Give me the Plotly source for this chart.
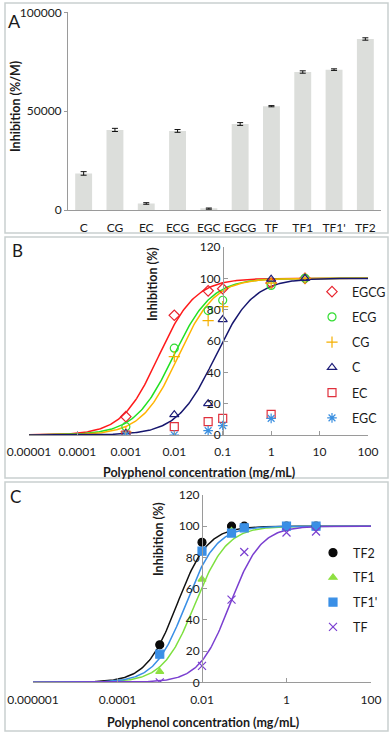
import numpy as np
import plotly.graph_objects as go

# ---------------- Panel A data ----------------
a_categories = ["C", "CG", "EC", "ECG", "EGC", "EGCG", "TF", "TF1", "TF1'", "TF2"]
a_values = [18500, 40500, 3300, 40000, 700, 43500, 52500, 69800, 71000, 86500]
a_errors = [900, 800, 400, 700, 300, 700, 300, 600, 400, 600]
a_ytickvals = [0, 50000, 100000]
a_yticktext = ["0", "50000", "100000"]

# ---------------- Panel B data ----------------
b_conc = [0.001, 0.01, 0.05, 0.1, 1, 5]
b_names = ["EGCG", "ECG", "CG", "C", "EC", "EGC"]
b_EGCG = [11.7, 76.4, 92, 93.4, 97, 100]
b_ECG = [5.3, 55.4, 79.4, 86, 95.5, 100]
b_CG = [2, 50, 73, 82, 97, 100]
b_C = [1, 13, 20, 73.7, 99.5, 100]
b_EC = [0, 5.3, 8.5, 10.6, 13.2, None]
b_EGC = [0, 0, 2.8, 6, 10.6, None]
# fitted dose-response curves (IC50 in mg/mL, Hill slope)
b_fit_names = ["EGCG", "ECG", "CG", "C"]
b_ic50 = [0.0047, 0.0095, 0.012, 0.07]
b_hill = [1.15, 1.1, 1.15, 1.1]
b_xtickvals = [0.00001, 0.0001, 0.001, 0.01, 0.1, 1, 10, 100]
b_xticktext = ["0.00001", "0.0001", "0.001", "0.01", "0.1", "1", "10", "100"]
b_ytickvals = [0, 20, 40, 60, 80, 100, 120]

# ---------------- Panel C data ----------------
c_conc = [0.001, 0.01, 0.05, 0.1, 1, 5]
c_names = ["TF2", "TF1", "TF1'", "TF"]
c_TF2 = [24, 89.7, 100, 100, 100, 100]
c_TF1 = [6.8, 66, 97, 99, 100, 100]
c_TF1p = [18, 84, 95.6, 99, 100, 100]
c_TF = [0, 10.5, 53, 83.5, 96, 96.6]
c_ic50 = [0.00257, 0.0068, 0.0041, 0.046]
c_hill = [1.2, 1.15, 1.2, 1.2]
c_xtickvals = [0.000001, 0.0001, 0.01, 1, 100]
c_xticktext = ["0.000001", "0.0001", "0.01", "1", "100"]
c_ytickvals = [0, 20, 40, 60, 80, 100, 120]

W, H = 392, 738
FONT = "Lato"
TXT = "#1a1a1a"
AX = "#9a9a9a"


def px_x(p):
    return p / W


def px_y(p):
    return 1 - p / H


def hill(x, ic50, n):
    return 100.0 / (1.0 + (ic50 / x) ** n)


fig = go.Figure()

# ---------- Panel A ----------
fig.add_trace(go.Bar(
    x=a_categories, y=a_values,
    error_y=dict(type="data", array=a_errors, color="#111111", thickness=1, width=3),
    marker=dict(color="#dcdedb", line=dict(width=0)),
    xaxis="x", yaxis="y", showlegend=False,
))

# ---------- Panel B ----------
xb = np.logspace(-5, 2, 300)
b_line_colors = {"EGCG": "#ff1a1a", "ECG": "#22e022", "CG": "#ffb300", "C": "#16166e"}
for nm, ic, n in zip(b_fit_names, b_ic50, b_hill):
    fig.add_trace(go.Scatter(x=xb, y=hill(xb, ic, n), mode="lines",
                             line=dict(color=b_line_colors[nm], width=1.5),
                             xaxis="x2", yaxis="y2", showlegend=False, hoverinfo="skip"))

b_series = [b_EGCG, b_ECG, b_CG, b_C, b_EC, b_EGC]
b_styles = [
    dict(symbol="diamond-open", color="#e8232d", size=8),
    dict(symbol="circle-open", color="#33dd33", size=8),
    dict(symbol="cross-thin-open", color="#f5b000", size=8),
    dict(symbol="triangle-up-open", color="#1c1c78", size=8),
    dict(symbol="square-open", color="#e0303c", size=8),
    dict(symbol="asterisk-open", color="#3a8fe0", size=8),
]
for nm, vals, st in zip(b_names, b_series, b_styles):
    fig.add_trace(go.Scatter(
        x=b_conc, y=vals, mode="markers", name=nm, legendgroup=nm,
        marker=dict(symbol=st["symbol"], size=st["size"], color=st["color"],
                    line=dict(color=st["color"], width=1.2)),
        xaxis="x2", yaxis="y2", legend="legend"))

# ---------- Panel C ----------
xc = np.logspace(-6, 2, 300)
c_line_colors = ["#111111", "#7ee040", "#3a8fe6", "#7a3fd0"]
for ic, n, col in zip(c_ic50, c_hill, c_line_colors):
    fig.add_trace(go.Scatter(x=xc, y=hill(xc, ic, n), mode="lines",
                             line=dict(color=col, width=1.5),
                             xaxis="x3", yaxis="y3", showlegend=False, hoverinfo="skip"))

c_series = [c_TF2, c_TF1, c_TF1p, c_TF]
c_styles = [
    dict(symbol="circle", color="#0a0a0a", size=8),
    dict(symbol="triangle-up", color="#8ee040", size=7),
    dict(symbol="square", color="#3a8fe6", size=8),
    dict(symbol="x-thin-open", color="#7a3fd0", size=8),
]
for nm, vals, st in zip(c_names, c_series, c_styles):
    fig.add_trace(go.Scatter(
        x=c_conc, y=vals, mode="markers", name=nm, legendgroup=nm,
        marker=dict(symbol=st["symbol"], size=st["size"], color=st["color"],
                    line=dict(color=st["color"], width=1.2)),
        xaxis="x3", yaxis="y3", legend="legend2"))

tickfont = dict(family=FONT, size=12, color=TXT)

fig.update_layout(
    width=W, height=H, margin=dict(l=0, r=0, t=0, b=0, autoexpand=False),
    paper_bgcolor="white", plot_bgcolor="white",
    font=dict(family=FONT, size=12, color=TXT),
    bargap=0.46,
    # Panel A axes
    xaxis=dict(domain=[px_x(68), px_x(381)], anchor="y", showline=True, linecolor=AX,
               linewidth=1, ticks="", tickfont=tickfont, ticklabelstandoff=7, tickangle=0,
               showgrid=False, zeroline=False, automargin=False),
    yaxis=dict(domain=[px_y(210), px_y(12.3)], anchor="x", range=[0, 100000],
               tickvals=a_ytickvals, ticktext=a_yticktext, showline=True, linecolor=AX,
               ticks="outside", ticklen=3, tickcolor=AX, tickfont=tickfont,
               showgrid=False, zeroline=False, automargin=False),
    # Panel B axes
    xaxis2=dict(domain=[px_x(29), px_x(368)], anchor="y2", type="log", range=[-5, 2],
                tickvals=b_xtickvals, ticktext=b_xticktext, showline=True, linecolor=AX,
                ticks="inside", ticklen=4, tickcolor=AX, tickfont=tickfont, tickangle=0,
                ticklabelstandoff=6, showgrid=False, zeroline=False, automargin=False),
    yaxis2=dict(domain=[px_y(435), px_y(247)], anchor="free", position=px_x(223),
                range=[0, 120], tickvals=b_ytickvals, showline=True, linecolor=AX,
                ticks="inside", ticklen=4, tickcolor=AX, tickfont=tickfont,
                showgrid=False, zeroline=False, automargin=False),
    # Panel C axes
    xaxis3=dict(domain=[px_x(33), px_x(371)], anchor="y3", type="log", range=[-6, 2],
                tickvals=c_xtickvals, ticktext=c_xticktext, showline=True, linecolor=AX,
                ticks="inside", ticklen=4, tickcolor=AX, tickfont=tickfont, tickangle=0,
                ticklabelstandoff=6, showgrid=False, zeroline=False, automargin=False),
    yaxis3=dict(domain=[px_y(682.3), px_y(495)], anchor="free", position=px_x(202),
                range=[0, 120], tickvals=c_ytickvals, showline=True, linecolor=AX,
                ticks="inside", ticklen=4, tickcolor=AX, tickfont=tickfont,
                showgrid=False, zeroline=False, automargin=False),
    legend=dict(x=px_x(312), xanchor="left", y=px_y(277), yanchor="top",
                bgcolor="rgba(0,0,0,0)", font=dict(family=FONT, size=12.5, color=TXT),
                tracegroupgap=6, itemwidth=30),
    legend2=dict(x=px_x(313), xanchor="left", y=px_y(538), yanchor="top",
                 bgcolor="rgba(0,0,0,0)", font=dict(family=FONT, size=12.5, color=TXT),
                 tracegroupgap=5.5, itemwidth=30),
)

border = "#c9d0cf"
for y0, y1 in [(3, 233), (237, 478), (482, 731)]:
    fig.add_shape(type="rect", xref="paper", yref="paper",
                  x0=px_x(5), x1=px_x(388), y0=px_y(y1), y1=px_y(y0),
                  line=dict(color=border, width=1.5), fillcolor="rgba(0,0,0,0)", layer="below")

ann = [
    dict(text="A", x=px_x(6), y=px_y(8), size=18),
    dict(text="B", x=px_x(10), y=px_y(238), size=17),
    dict(text="C", x=px_x(8), y=px_y(484), size=17),
]
for a in ann:
    fig.add_annotation(text=a["text"], x=a["x"], y=a["y"], xref="paper", yref="paper",
                       xanchor="left", yanchor="top", showarrow=False,
                       font=dict(family=FONT, size=a["size"], color=TXT))

titles = [
    ("<b>Inhibition (%/M)</b>", 16, 107, -90),
    ("<b>Inhibition (%)</b>", 152, 284, -90),
    ("<b>Polyphenol concentration (mg/mL)</b>", 199, 472, 0),
    ("<b>Inhibition (%)</b>", 158, 539, -90),
    ("<b>Polyphenol concentration (mg/mL)</b>", 203, 722, 0),
]
for t, x, y, ang in titles:
    fig.add_annotation(text=t, x=px_x(x), y=px_y(y), xref="paper", yref="paper",
                       xanchor="center", yanchor="middle", showarrow=False, textangle=ang,
                       font=dict(family=FONT, size=12.5, color=TXT))

fig.write_html("out.html", config={"displayModeBar": False},
               post_script="document.body.style.margin='0';document.body.style.overflow='hidden';")
